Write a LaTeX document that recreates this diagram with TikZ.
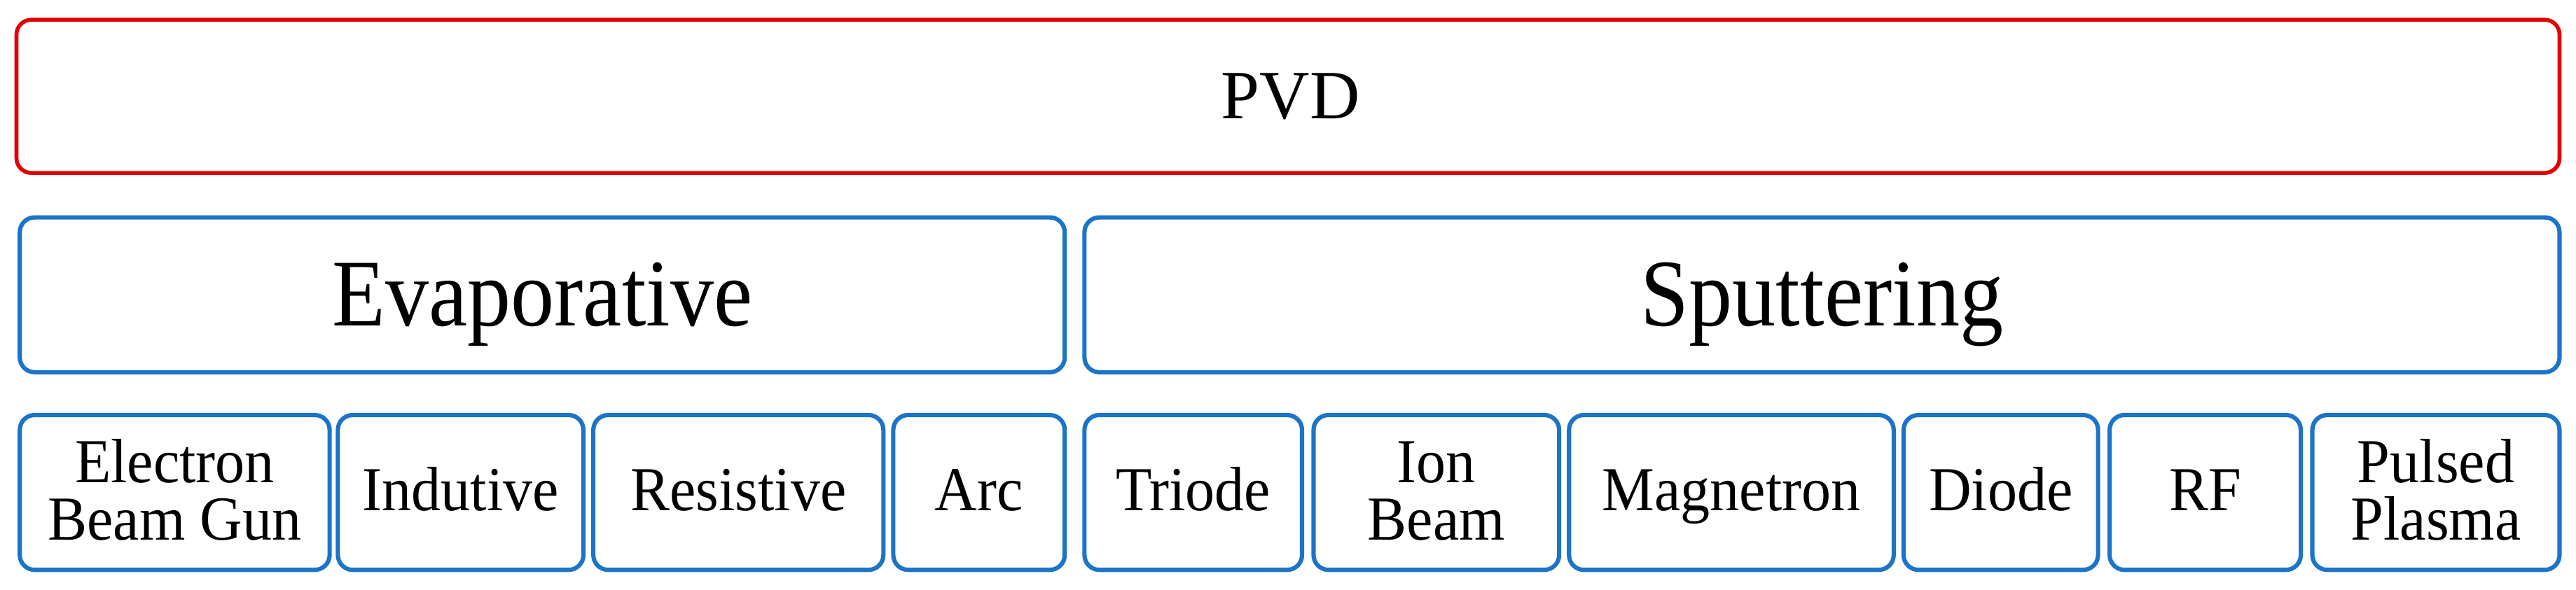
\documentclass[tikz,border=0pt]{standalone}
\usepackage{fontspec}
\setmainfont[FakeStretch=0.91]{Liberation Serif}
\newfontfamily\plainf{Liberation Serif}
\newfontfamily\smallf[FakeStretch=0.94]{Liberation Serif}
\definecolor{pvdred}{HTML}{E00000}
\definecolor{bblue}{HTML}{1C74C8}
\begin{document}
\begin{tikzpicture}[x=0.5pt,y=-0.5pt,
  box/.style={draw=bblue,line width=1.3pt,rounded corners=4.5pt},
  lbl/.style={align=center,font=\smallf\fontsize{19}{17.5}\selectfont,inner sep=0pt,anchor=base}]
\useasboundingbox (0,0) rectangle (1563,358);
\draw[draw=pvdred,line width=1.2pt,rounded corners=4.5pt] (10,12) rectangle (1553,105);
\node[font=\plainf\fontsize{21}{23}\selectfont,anchor=base,inner sep=0pt] (pvd) at (783,72) {PVD};
\draw[box] (12,132) rectangle (646,226);
\node[font=\fontsize{29}{31}\selectfont,anchor=base,inner sep=0pt] (evap) at (329,198) {Evaporative};
\draw[box] (658,132) rectangle (1553,226);
\node[font=\fontsize{29}{31}\selectfont,anchor=base,inner sep=0pt] (sput) at (1105.5,198) {Sputtering};
\foreach \a/\b/\t/\yb [count=\i] in {12/200/{Electron\\Beam Gun}/328,205/354/Indutive/310,360/536/Resistive/310,542/646/Arc/310,658/790/Triode/310,797/946/{Ion\\Beam}/328,952/1149/Magnetron/310,1155/1273/Diode/310,1280/1396/RF/310,1403/1553/{Pulsed\\Plasma}/328}{
  \draw[box] (\a,252) rectangle (\b,346);
  \node[lbl] (n\i) at ({(\a+\b)/2},\yb) {\t};
}
\end{tikzpicture}
\end{document}
